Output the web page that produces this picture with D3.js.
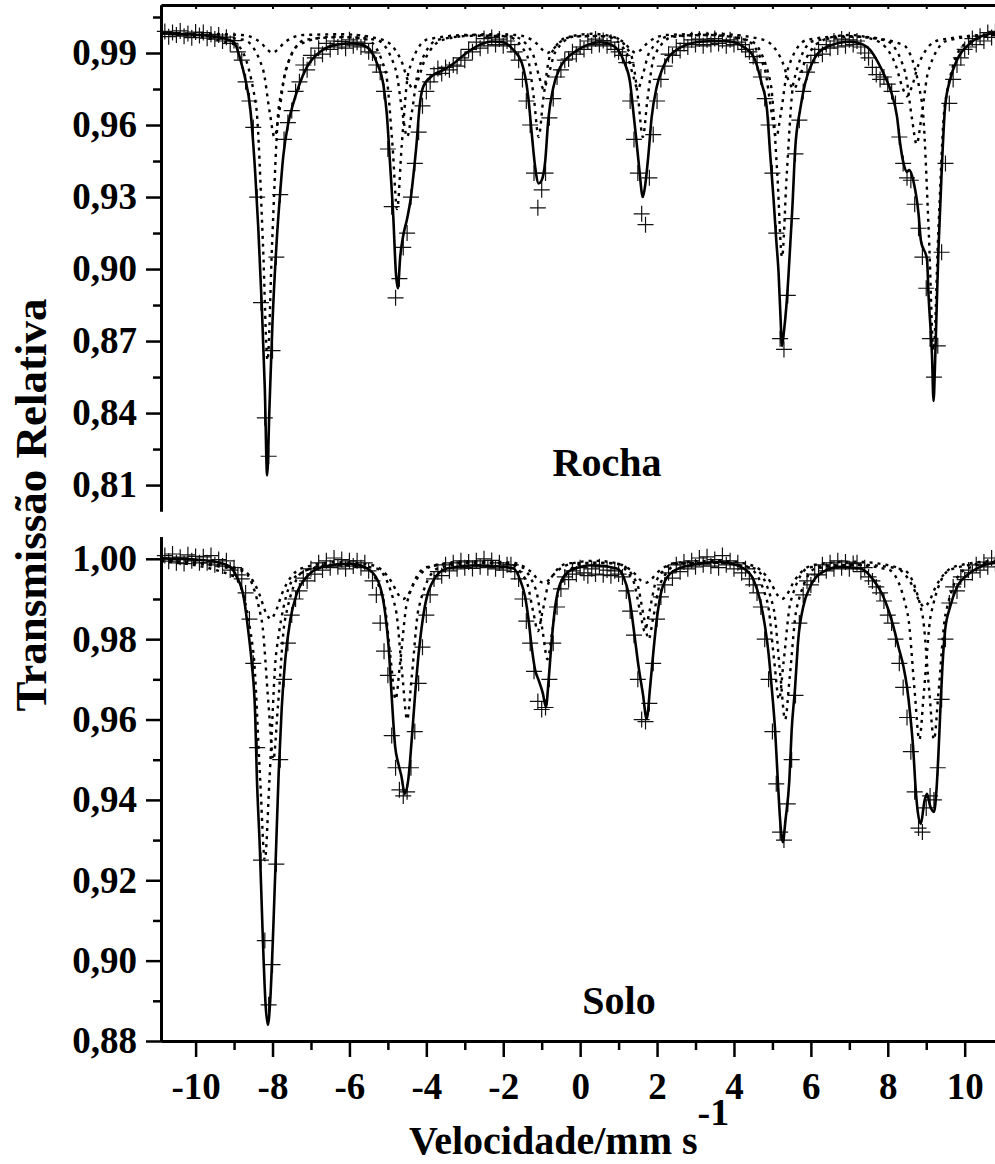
<!DOCTYPE html>
<html>
<head>
<meta charset="utf-8">
<script src="https://cdn.jsdelivr.net/npm/d3@7"></script>
<style>
  body { margin: 0; background: #fff; }
  text { font-family: "Liberation Serif", "Times New Roman", serif; font-weight: bold; fill: #000; }
</style>
</head>
<body>
<div id="chart"></div>
<script>
// velocity channels (mm/s), one per measured point
const velocity = d3.range(217).map(i => Math.round((-10.8 + i * 0.1) * 10) / 10);

// measured relative transmission, Rocha
const rochaCounts = [
  0.9990, 0.9968, 0.9985, 0.9975, 0.9992, 0.9970, 0.9981, 0.9964, 0.9987, 0.9973,
  0.9985, 0.9962, 0.9978, 0.9958, 0.9975, 0.9950, 0.9966, 0.9940, 0.9952, 0.9905,
  0.9870, 0.9780, 0.9700, 0.9590, 0.9300, 0.8860, 0.8380, 0.8220, 0.8660, 0.9050,
  0.9310, 0.9540, 0.9610, 0.9660, 0.9740, 0.9780, 0.9850, 0.9830, 0.9890, 0.9880,
  0.9920, 0.9895, 0.9940, 0.9915, 0.9950, 0.9925, 0.9948, 0.9920, 0.9955, 0.9930,
  0.9945, 0.9925, 0.9940, 0.9905, 0.9900, 0.9850, 0.9820, 0.9740, 0.9500, 0.9260,
  0.8880, 0.8960, 0.9090, 0.9150, 0.9300, 0.9440, 0.9570, 0.9680, 0.9740, 0.9780,
  0.9810, 0.9835, 0.9815, 0.9840, 0.9830, 0.9850, 0.9845, 0.9880, 0.9870, 0.9915,
  0.9905, 0.9945, 0.9920, 0.9960, 0.9930, 0.9965, 0.9935, 0.9958, 0.9930, 0.9950,
  0.9935, 0.9905, 0.9870, 0.9790, 0.9700, 0.9600, 0.9400, 0.9255, 0.9330, 0.9400,
  0.9630, 0.9710, 0.9800, 0.9830, 0.9870, 0.9875, 0.9905, 0.9895, 0.9925, 0.9915,
  0.9950, 0.9930, 0.9958, 0.9935, 0.9952, 0.9930, 0.9945, 0.9915, 0.9905, 0.9890,
  0.9860, 0.9700, 0.9540, 0.9400, 0.9230, 0.9185, 0.9380, 0.9560, 0.9700, 0.9790,
  0.9845, 0.9895, 0.9890, 0.9925, 0.9910, 0.9940, 0.9925, 0.9955, 0.9935, 0.9958,
  0.9930, 0.9955, 0.9935, 0.9960, 0.9940, 0.9952, 0.9930, 0.9955, 0.9935, 0.9945,
  0.9935, 0.9915, 0.9905, 0.9885, 0.9860, 0.9800, 0.9710, 0.9600, 0.9400, 0.9150,
  0.8710, 0.8665, 0.8890, 0.9210, 0.9480, 0.9620, 0.9740, 0.9820, 0.9860, 0.9890,
  0.9915, 0.9895, 0.9935, 0.9920, 0.9950, 0.9925, 0.9958, 0.9930, 0.9955, 0.9935,
  0.9950, 0.9925, 0.9900, 0.9880, 0.9840, 0.9810, 0.9790, 0.9800, 0.9770, 0.9740,
  0.9690, 0.9550, 0.9440, 0.9380, 0.9370, 0.9270, 0.9170, 0.9050, 0.8920, 0.8710,
  0.8550, 0.8680, 0.9070, 0.9440, 0.9690, 0.9790, 0.9850, 0.9880, 0.9915, 0.9925,
  0.9960, 0.9935, 0.9970, 0.9950, 0.9985, 0.9965, 0.9990
];

// measured relative transmission, Solo
const soloCounts = [
  1.0008, 0.9994, 1.0012, 0.9990, 1.0004, 0.9988, 1.0010, 0.9995, 1.0006, 0.9990,
  1.0005, 0.9990, 1.0008, 0.9985, 0.9998, 0.9982, 0.9995, 0.9972, 0.9978, 0.9960,
  0.9950, 0.9915, 0.9850, 0.9740, 0.9530, 0.9250, 0.9050, 0.8890, 0.8990, 0.9240,
  0.9500, 0.9700, 0.9790, 0.9860, 0.9900, 0.9920, 0.9952, 0.9945, 0.9975, 0.9962,
  0.9990, 0.9972, 0.9995, 0.9978, 1.0002, 0.9980, 0.9998, 0.9975, 0.9995, 0.9982,
  0.9995, 0.9978, 0.9990, 0.9970, 0.9945, 0.9910, 0.9840, 0.9770, 0.9710, 0.9560,
  0.9480, 0.9425, 0.9410, 0.9420, 0.9480, 0.9570, 0.9690, 0.9780, 0.9860, 0.9910,
  0.9950, 0.9968, 0.9958, 0.9985, 0.9970, 0.9990, 0.9975, 0.9995, 0.9978, 0.9992,
  0.9976, 0.9995, 0.9980, 1.0000, 0.9978, 0.9996, 0.9975, 0.9990, 0.9972, 0.9985,
  0.9985, 0.9968, 0.9950, 0.9900, 0.9845, 0.9790, 0.9720, 0.9645, 0.9625, 0.9630,
  0.9700, 0.9790, 0.9880, 0.9925, 0.9955, 0.9948, 0.9970, 0.9962, 0.9978, 0.9965,
  0.9958, 0.9975, 0.9962, 0.9980, 0.9960, 0.9972, 0.9958, 0.9970, 0.9962, 0.9955,
  0.9920, 0.9870, 0.9810, 0.9700, 0.9600, 0.9595, 0.9640, 0.9740, 0.9850, 0.9905,
  0.9935, 0.9965, 0.9952, 0.9985, 0.9968, 0.9992, 0.9975, 0.9995, 0.9980, 1.0002,
  0.9985, 1.0005, 0.9982, 0.9998, 0.9978, 1.0008, 0.9985, 0.9995, 0.9975, 0.9990,
  0.9965, 0.9975, 0.9950, 0.9935, 0.9915, 0.9880, 0.9800, 0.9700, 0.9570, 0.9440,
  0.9320, 0.9300, 0.9390, 0.9500, 0.9660, 0.9840, 0.9910, 0.9945, 0.9935, 0.9962,
  0.9960, 0.9985, 0.9970, 0.9990, 0.9975, 0.9995, 0.9978, 0.9992, 0.9975, 0.9988,
  0.9990, 0.9968, 0.9978, 0.9955, 0.9945, 0.9930, 0.9915, 0.9895, 0.9860, 0.9840,
  0.9800, 0.9740, 0.9680, 0.9605, 0.9520, 0.9420, 0.9330, 0.9320, 0.9380, 0.9410,
  0.9400, 0.9480, 0.9650, 0.9800, 0.9890, 0.9930, 0.9920, 0.9955, 0.9948, 0.9972,
  0.9965, 0.9985, 0.9972, 0.9992, 0.9980, 1.0002, 0.9988
];

// fitted envelope, Rocha  [velocity, transmission]
const rochaFit = [[-10.9,0.9982],[-10.2,0.9978],[-9.6,0.997],[-9.2,0.9958],[-9.0,0.9945],[-8.84,0.9875],[-8.72,0.98],[-8.58,0.967],[-8.45,0.94],[-8.37,0.917],[-8.28,0.885],[-8.2,0.85],[-8.14,0.814],[-8.08,0.842],[-8.0,0.878],[-7.89,0.912],[-7.8,0.932],[-7.72,0.947],[-7.6,0.96],[-7.46,0.969],[-7.3,0.977],[-7.11,0.984],[-6.76,0.9905],[-6.33,0.9935],[-5.9,0.994],[-5.55,0.9925],[-5.29,0.986],[-5.11,0.976],[-5.03,0.965],[-4.94,0.943],[-4.86,0.922],[-4.79,0.898],[-4.74,0.892],[-4.68,0.905],[-4.6,0.914],[-4.5,0.921],[-4.4,0.93],[-4.34,0.9385],[-4.25,0.953],[-4.18,0.967],[-4.08,0.976],[-3.82,0.9808],[-3.56,0.9829],[-3.3,0.9855],[-3.0,0.9895],[-2.6,0.9935],[-2.3,0.9948],[-2.0,0.9945],[-1.75,0.9915],[-1.52,0.986],[-1.35,0.9717],[-1.26,0.9567],[-1.17,0.9425],[-1.08,0.9357],[-1.0,0.937],[-0.91,0.9447],[-0.83,0.962],[-0.7,0.9755],[-0.52,0.984],[-0.3,0.9885],[-0.09,0.991],[0.2,0.9935],[0.52,0.9945],[0.8,0.9935],[1.0,0.991],[1.15,0.986],[1.3,0.9775],[1.37,0.9675],[1.46,0.954],[1.53,0.943],[1.63,0.93],[1.7,0.936],[1.77,0.9467],[1.86,0.9633],[1.99,0.9758],[2.16,0.9842],[2.51,0.9913],[3.12,0.9947],[3.6,0.995],[4.0,0.9945],[4.25,0.9925],[4.51,0.9885],[4.72,0.9774],[4.86,0.9663],[4.94,0.9483],[5.03,0.929],[5.1,0.912],[5.16,0.8985],[5.21,0.88],[5.25,0.868],[5.3,0.874],[5.36,0.884],[5.42,0.898],[5.47,0.912],[5.52,0.926],[5.59,0.9496],[5.72,0.9663],[5.85,0.9774],[6.07,0.9871],[6.42,0.9926],[7.02,0.9947],[7.36,0.9935],[7.54,0.9913],[7.76,0.9857],[7.93,0.9801],[8.1,0.9732],[8.24,0.9635],[8.32,0.9525],[8.41,0.944],[8.5,0.9405],[8.56,0.9412],[8.67,0.9364],[8.8,0.923],[8.86,0.912],[9.02,0.904],[9.06,0.889],[9.15,0.864],[9.19,0.845],[9.23,0.861],[9.28,0.8887],[9.32,0.909],[9.41,0.944],[9.49,0.9675],[9.62,0.9788],[9.8,0.9871],[10.14,0.994],[10.66,0.998],[10.9,0.9985]];

// sub-spectra, Rocha
const rochaSub1 = [[-10.9,0.9984],[-8.93,0.9933],[-8.43,0.9683],[-8.25,0.9111],[-8.13,0.862],[-8.01,0.9111],[-7.83,0.9683],[-7.33,0.9933],[-6.45,0.9968],[-5.56,0.9957],[-5.06,0.9823],[-4.88,0.9515],[-4.76,0.925],[-4.64,0.9515],[-4.46,0.9823],[-3.96,0.9957],[-2.9,0.9975],[-1.88,0.9968],[-1.38,0.9889],[-1.2,0.9707],[-1.08,0.955],[-0.96,0.9707],[-0.78,0.9889],[-0.28,0.9968],[0.28,0.997],[0.83,0.9968],[1.33,0.9889],[1.51,0.9707],[1.63,0.955],[1.75,0.9707],[1.93,0.9889],[2.43,0.9968],[3.45,0.9975],[4.45,0.9949],[4.95,0.9778],[5.13,0.9387],[5.25,0.905],[5.37,0.9387],[5.55,0.9778],[6.05,0.9949],[7.2,0.9968],[8.39,0.9935],[8.89,0.9692],[9.07,0.9137],[9.19,0.866],[9.31,0.9137],[9.49,0.9692],[9.99,0.9935],[10.9,0.9978]];
const rochaSub2 = [[-10.9,0.9982],[-8.75,0.9955],[-8.25,0.9833],[-8.07,0.965],[-7.95,0.955],[-7.83,0.965],[-7.65,0.9833],[-7.15,0.9955],[-6.2,0.9966],[-5.3,0.9955],[-4.8,0.9833],[-4.62,0.965],[-4.5,0.955],[-4.38,0.965],[-4.2,0.9833],[-3.7,0.9955],[-2.7,0.9972],[-1.75,0.9969],[-1.25,0.9903],[-1.07,0.9804],[-0.95,0.975],[-0.83,0.9804],[-0.65,0.9903],[-0.15,0.9969],[0.28,0.9972],[0.7,0.9969],[1.2,0.9903],[1.38,0.9804],[1.5,0.975],[1.62,0.9804],[1.8,0.9903],[2.3,0.9969],[3.3,0.9975],[4.3,0.9955],[4.8,0.9833],[4.98,0.965],[5.1,0.955],[5.22,0.965],[5.4,0.9833],[5.9,0.9955],[6.9,0.997],[7.95,0.9952],[8.45,0.9822],[8.63,0.9626],[8.75,0.952],[8.87,0.9626],[9.05,0.9822],[9.55,0.9952],[10.9,0.9978]];
const rochaSub3 = [[-10.9,0.9983],[-8.8,0.9975],[-8.3,0.9942],[-8.12,0.9912],[-8.0,0.990],[-7.88,0.9912],[-7.7,0.9942],[-7.2,0.9975],[-6.2,0.9978],[-5.15,0.9956],[-4.65,0.9867],[-4.47,0.9782],[-4.35,0.975],[-4.23,0.9782],[-4.05,0.9867],[-3.55,0.9956],[-2.4,0.9978],[-1.65,0.9975],[-1.15,0.9942],[-0.97,0.9912],[-0.85,0.990],[-0.73,0.9912],[-0.55,0.9942],[-0.05,0.9975],[0.3,0.998],[0.65,0.9975],[1.15,0.9942],[1.33,0.9912],[1.45,0.990],[1.57,0.9912],[1.75,0.9942],[2.25,0.9975],[3.5,0.998],[4.75,0.9956],[5.25,0.9867],[5.43,0.9782],[5.55,0.975],[5.67,0.9782],[5.85,0.9867],[6.35,0.9956],[7.0,0.9975],[7.7,0.9952],[8.2,0.9852],[8.38,0.9757],[8.5,0.972],[8.62,0.9757],[8.8,0.9852],[9.3,0.9952],[10.9,0.998]];

// fitted envelope, Solo
const soloFit = [[-10.9,1.0001],[-10.0,0.9998],[-9.45,0.9992],[-9.1,0.998],[-8.93,0.9955],[-8.75,0.9905],[-8.63,0.982],[-8.54,0.974],[-8.45,0.961],[-8.41,0.9466],[-8.33,0.928],[-8.25,0.905],[-8.18,0.889],[-8.12,0.884],[-8.06,0.89],[-7.98,0.908],[-7.9,0.93],[-7.84,0.9466],[-7.76,0.963],[-7.67,0.9748],[-7.54,0.9847],[-7.37,0.9913],[-7.11,0.9955],[-6.68,0.998],[-5.98,0.9988],[-5.46,0.9971],[-5.2,0.993],[-5.07,0.9864],[-4.98,0.978],[-4.9,0.9656],[-4.81,0.9532],[-4.73,0.9491],[-4.65,0.946],[-4.56,0.9415],[-4.47,0.945],[-4.38,0.955],[-4.29,0.9665],[-4.2,0.9764],[-4.07,0.9864],[-3.81,0.9947],[-3.47,0.9976],[-2.7,0.9984],[-2.0,0.998],[-1.73,0.9976],[-1.56,0.9947],[-1.43,0.9905],[-1.34,0.9847],[-1.26,0.978],[-1.17,0.9723],[-1.08,0.9698],[-0.97,0.9665],[-0.89,0.9631],[-0.82,0.9698],[-0.74,0.9797],[-0.65,0.988],[-0.52,0.9938],[-0.26,0.9971],[0.35,0.9984],[0.95,0.9976],[1.13,0.9955],[1.26,0.9913],[1.34,0.9864],[1.43,0.9797],[1.52,0.9731],[1.63,0.9665],[1.73,0.9602],[1.82,0.9681],[1.9,0.9764],[1.99,0.9847],[2.12,0.9922],[2.34,0.9963],[2.69,0.998],[3.64,0.9992],[4.25,0.9976],[4.51,0.9947],[4.68,0.9897],[4.81,0.983],[4.9,0.9764],[4.98,0.9681],[5.07,0.9573],[5.14,0.9449],[5.2,0.935],[5.27,0.9295],[5.34,0.935],[5.44,0.9449],[5.5,0.9573],[5.59,0.9681],[5.67,0.9797],[5.8,0.988],[5.98,0.993],[6.24,0.9963],[6.76,0.998],[7.28,0.9976],[7.63,0.9947],[7.85,0.9913],[8.02,0.9872],[8.15,0.983],[8.28,0.978],[8.41,0.9731],[8.5,0.9681],[8.58,0.9615],[8.67,0.9515],[8.71,0.9449],[8.78,0.937],[8.86,0.934],[8.95,0.9395],[9.02,0.9415],[9.1,0.9385],[9.2,0.937],[9.27,0.943],[9.32,0.952],[9.37,0.963],[9.42,0.973],[9.49,0.9822],[9.62,0.988],[9.8,0.993],[10.06,0.9959],[10.4,0.998],[10.9,0.9992]];

// sub-spectra, Solo
const soloSub1 = [[-10.9,0.9995],[-9.0,0.9956],[-8.5,0.9769],[-8.32,0.9449],[-8.2,0.925],[-8.08,0.9449],[-7.9,0.9769],[-7.4,0.9956],[-6.5,0.9985],[-5.6,0.9979],[-5.1,0.9892],[-4.92,0.9743],[-4.8,0.965],[-4.68,0.9743],[-4.5,0.9892],[-4.0,0.9979],[-2.95,0.999],[-1.9,0.9989],[-1.4,0.9945],[-1.22,0.9868],[-1.1,0.982],[-0.98,0.9868],[-0.8,0.9945],[-0.3,0.9989],[0.29,0.999],[0.88,0.9989],[1.38,0.9945],[1.56,0.9868],[1.68,0.982],[1.8,0.9868],[1.98,0.9945],[2.48,0.9989],[3.5,0.999],[4.53,0.9976],[5.03,0.9877],[5.21,0.9706],[5.33,0.96],[5.45,0.9706],[5.63,0.9877],[6.13,0.9976],[7.27,0.9985],[8.4,0.9973],[8.9,0.9861],[9.08,0.9669],[9.2,0.955],[9.32,0.9669],[9.5,0.9861],[10.0,0.9973],[10.9,0.9993]];
const soloSub2 = [[-10.9,0.9994],[-8.78,0.997],[-8.28,0.9846],[-8.1,0.9632],[-7.98,0.95],[-7.86,0.9632],[-7.68,0.9846],[-7.18,0.997],[-6.2,0.9985],[-5.3,0.9976],[-4.8,0.9877],[-4.62,0.9706],[-4.5,0.96],[-4.38,0.9706],[-4.2,0.9877],[-3.7,0.9976],[-2.7,0.999],[-1.65,0.9985],[-1.15,0.9923],[-0.97,0.9816],[-0.85,0.975],[-0.73,0.9816],[-0.55,0.9923],[-0.05,0.9985],[0.45,0.999],[0.98,0.9988],[1.48,0.9938],[1.66,0.9853],[1.78,0.98],[1.9,0.9853],[2.08,0.9938],[2.58,0.9988],[3.5,0.999],[4.37,0.9979],[4.87,0.9892],[5.05,0.9743],[5.17,0.965],[5.29,0.9743],[5.47,0.9892],[5.97,0.9979],[7.0,0.9985],[8.02,0.9973],[8.52,0.9861],[8.7,0.9669],[8.82,0.955],[8.94,0.9669],[9.12,0.9861],[9.62,0.9973],[10.9,0.9993]];
const soloSub3 = [[-10.9,0.9996],[-8.85,0.9976],[-8.35,0.9914],[-8.17,0.9866],[-8.05,0.985],[-7.93,0.9866],[-7.75,0.9914],[-7.25,0.9976],[-6.3,0.9992],[-5.4,0.9984],[-4.9,0.9942],[-4.72,0.991],[-4.6,0.99],[-4.48,0.991],[-4.3,0.9942],[-3.8,0.9984],[-2.85,0.9994],[-1.75,0.999],[-1.25,0.9965],[-1.07,0.9946],[-0.95,0.994],[-0.83,0.9946],[-0.65,0.9965],[-0.15,0.999],[0.38,0.9995],[0.9,0.999],[1.4,0.9965],[1.58,0.9946],[1.7,0.994],[1.82,0.9946],[2.0,0.9965],[2.5,0.999],[3.6,0.9995],[4.45,0.9984],[4.95,0.9942],[5.13,0.991],[5.25,0.99],[5.37,0.991],[5.55,0.9942],[6.05,0.9984],[7.1,0.9993],[8.15,0.9981],[8.65,0.9931],[8.83,0.9893],[8.95,0.988],[9.07,0.9893],[9.25,0.9931],[9.75,0.9981],[10.9,0.9996]];

// tick values
const xMajor = [-10, -8, -6, -4, -2, 0, 2, 4, 6, 8, 10];
const xMinor = [-9, -7, -5, -3, -1, 1, 3, 5, 7, 9];
const xTopTicks = d3.range(-10, 11);
const rochaMajor = [0.81, 0.84, 0.87, 0.90, 0.93, 0.96, 0.99];
const rochaMinor = [0.825, 0.855, 0.885, 0.915, 0.945, 0.975, 1.005];
const soloMajor = [0.88, 0.90, 0.92, 0.94, 0.96, 0.98, 1.00];
const soloMinor = [0.89, 0.91, 0.93, 0.95, 0.97, 0.99];

const width = 995, height = 1164;
const svg = d3.select("#chart").append("svg")
    .attr("width", width)
    .attr("height", height);

const x = d3.scaleLinear().domain([-10.9, 10.9]).range([161, 999.3]);
const yTop = d3.scaleLinear().domain([0.7992, 1.01]).range([511, 5]);
const yBot = d3.scaleLinear().domain([0.88, 1.0055]).range([1041, 536.7]);

const comma = d => d.toFixed(2).replace(".", ",");

function drawPanel(y, counts, fit, subs) {
  const g = svg.append("g");
  const line = d3.line()
      .x(d => x(d[0]))
      .y(d => y(d[1]))
      .curve(d3.curveMonotoneX);

  // data points as crosses
  g.selectAll("path.pt")
    .data(counts)
    .join("path")
      .attr("class", "pt")
      .attr("transform", (d, i) => `translate(${x(velocity[i])},${y(d)})`)
      .attr("d", "M-8,0H8M0,-8V8")
      .attr("stroke", "#111")
      .attr("stroke-width", 1.2);

  // sub-spectra (dotted)
  subs.forEach(s => {
    g.append("path")
      .attr("d", line(s))
      .attr("fill", "none")
      .attr("stroke", "#000")
      .attr("stroke-width", 2.4)
      .attr("stroke-dasharray", "3,5");
  });

  // fitted envelope
  g.append("path")
    .attr("d", line(fit))
    .attr("fill", "none")
    .attr("stroke", "#000")
    .attr("stroke-width", 2.6);
}

drawPanel(yTop, rochaCounts, rochaFit, [rochaSub1, rochaSub2, rochaSub3]);
drawPanel(yBot, soloCounts, soloFit, [soloSub1, soloSub2, soloSub3]);

function styleAxis(sel, lw) {
  sel.select(".domain").attr("stroke-width", 3);
  sel.selectAll(".tick line").attr("stroke-width", lw);
  sel.selectAll(".tick text")
    .style("font-size", "37px")
    .style("font-family", '"Liberation Serif", "Times New Roman", serif')
    .style("font-weight", "bold");
}

// left axes
[[yTop, rochaMajor, rochaMinor], [yBot, soloMajor, soloMinor]].forEach(([y, maj, min]) => {
  svg.append("g")
      .attr("transform", "translate(161,0)")
      .call(d3.axisLeft(y).tickValues(min).tickSize(8).tickSizeOuter(0).tickFormat(""))
      .call(s => styleAxis(s, 2.5));
  svg.append("g")
      .attr("transform", "translate(161,0)")
      .call(d3.axisLeft(y).tickValues(maj).tickSize(15).tickSizeOuter(0).tickPadding(9).tickFormat(comma))
      .call(s => styleAxis(s, 2.5));
});

// top frame of upper panel with short inward ticks
svg.append("g")
    .attr("transform", "translate(0,5)")
    .call(d3.axisBottom(x).tickValues(xTopTicks).tickSize(4).tickSizeOuter(0).tickFormat(""))
    .call(s => styleAxis(s, 2));

// bottom x axis
svg.append("g")
    .attr("transform", "translate(0,1041)")
    .call(d3.axisBottom(x).tickValues(xMinor).tickSize(9).tickSizeOuter(0).tickFormat(""))
    .call(s => styleAxis(s, 2.5));
svg.append("g")
    .attr("transform", "translate(0,1041)")
    .call(d3.axisBottom(x).tickValues(xMajor).tickSize(16).tickSizeOuter(0).tickPadding(16).tickFormat(d => String(d)))
    .call(s => styleAxis(s, 2.5));

// panel labels
svg.append("text").attr("x", 607).attr("y", 476).attr("text-anchor", "middle")
   .style("font-size", "40px").text("Rocha");
svg.append("text").attr("x", 619).attr("y", 1014).attr("text-anchor", "middle")
   .style("font-size", "40px").text("Solo");

// axis titles
svg.append("text")
    .attr("transform", "translate(46,505) rotate(-90)")
    .attr("text-anchor", "middle")
    .style("font-size", "45px")
    .text("Transmissão Relativa");

const xt = svg.append("text").attr("x", 409).attr("y", 1154).style("font-size", "40px");
xt.append("tspan").text("Velocidade/mm s");
xt.append("tspan").attr("dy", -29).style("font-size", "38px").text("-1");
</script>
</body>
</html>
